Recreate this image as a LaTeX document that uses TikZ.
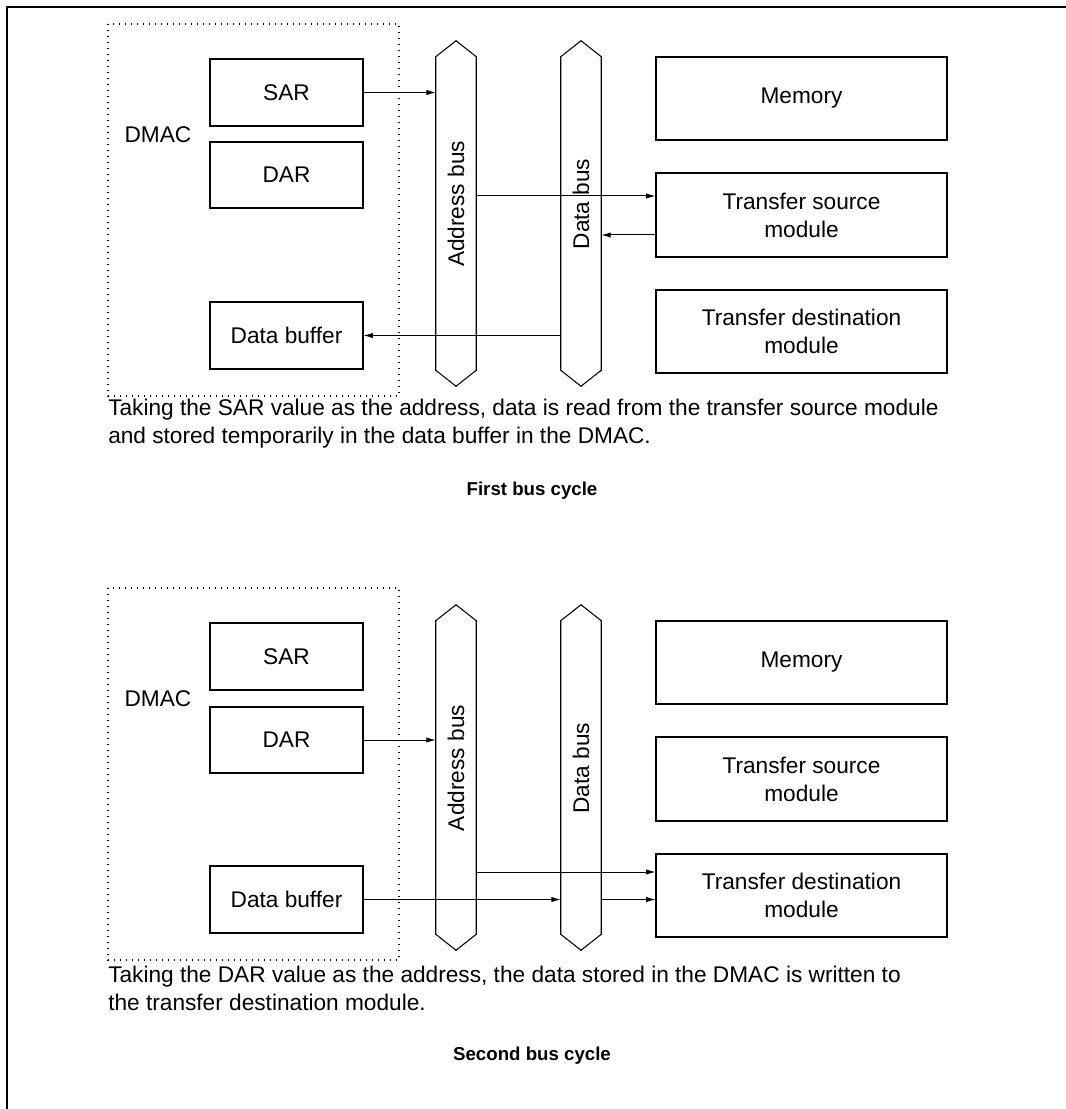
\documentclass[tikz,border=0pt]{standalone}
\usepackage{fontspec}
\setmainfont{Liberation Sans}
\usetikzlibrary{arrows.meta}
\begin{document}
\begin{tikzpicture}[x=0.75pt,y=-0.75pt,
  lbl/.style={font=\fontsize{17}{21}\selectfont},
  box/.style={draw, line width=0.8pt, align=center, inner sep=0pt, lbl},
  bw/.style 2 args={minimum width=#1*0.75pt, minimum height=#2*0.75pt},
  busn/.style={inner sep=0pt, minimum width=30pt, minimum height=234.75pt},
  bus/.style={draw, line width=0.8pt, line join=miter},
  arr/.style={line width=0.75pt, -{Latex[length=7pt,width=4pt]}},
  dmac/.style={draw, line width=0.9pt, dash pattern=on 0.9pt off 3.6pt},
  para/.style={anchor=west, align=left, inner sep=0pt, lbl},
  title/.style={font=\fontsize{14}{17}\selectfont\bfseries}]
\useasboundingbox (0,0) rectangle (1066,1109);
\draw[line width=1.4pt] (7,1109) -- (7,7) -- (1066,7);

% ---------- Panel 1 ----------
\draw[dmac] (108,24) rectangle (399,396);
\node[lbl] (dmac1) at (158,135) {DMAC};
\node[box, bw={153}{67}] (sar1) at (286.5,92.5) {SAR};
\node[box, bw={153}{66}] (dar1) at (286.5,175) {DAR};
\node[box, bw={153}{67}] (buf1) at (286.5,335.5) {Data buffer};
\node[box, bw={291}{83}] (mem1) at (801.5,98.5) {Memory};
\node[box, bw={291}{84}] (ts1) at (801.5,215) {Transfer source\\module};
\node[box, bw={291}{83}] (td1) at (801.5,331.5) {Transfer destination\\module};
\node[busn] (ab1) at (456,213.5) {};
\node[busn] (db1) at (581,213.5) {};
\foreach \b in {ab1,db1}
  \draw[bus] (\b.north west) -- ([yshift=12pt]\b.north) -- (\b.north east) -- (\b.south east) -- ([yshift=-12pt]\b.south) -- (\b.south west) -- cycle;
\node[lbl, rotate=90] (abt1) at (456,204) {Address bus};
\node[lbl, rotate=90] (dbt1) at (581,204) {Data bus};
\draw[arr] (sar1.east) -- (sar1.east -| ab1.west);
\draw[arr] (ab1.east |- 0,196) -- (ts1.west |- 0,196);
\draw[arr] (ts1.west |- 0,235) -- (db1.east |- 0,235);
\draw[arr] (db1.west |- buf1.east) -- (buf1.east);
\node[para] (p1) at (108,424) {Taking the SAR value as the address, data is read from the transfer source module\\and stored temporarily in the data buffer in the DMAC.};
\node[title] (t1) at (532,491) {First bus cycle};

% ---------- Panel 2 ----------
\draw[dmac] (108,588) rectangle (399,960);
\node[lbl] (dmac2) at (158,699) {DMAC};
\node[box, bw={153}{67}] (sar2) at (286.5,656.5) {SAR};
\node[box, bw={153}{66}] (dar2) at (286.5,740) {DAR};
\node[box, bw={153}{67}] (buf2) at (286.5,899.5) {Data buffer};
\node[box, bw={291}{83}] (mem2) at (801.5,662.5) {Memory};
\node[box, bw={291}{84}] (ts2) at (801.5,779) {Transfer source\\module};
\node[box, bw={291}{83}] (td2) at (801.5,895.5) {Transfer destination\\module};
\node[busn] (ab2) at (456,777.5) {};
\node[busn] (db2) at (581,777.5) {};
\foreach \b in {ab2,db2}
  \draw[bus] (\b.north west) -- ([yshift=12pt]\b.north) -- (\b.north east) -- (\b.south east) -- ([yshift=-12pt]\b.south) -- (\b.south west) -- cycle;
\node[lbl, rotate=90] (abt2) at (456,768) {Address bus};
\node[lbl, rotate=90] (dbt2) at (581,768) {Data bus};
\draw[arr] (dar2.east) -- (dar2.east -| ab2.west);
\draw[arr] (ab2.east |- 0,872) -- (td2.west |- 0,872);
\draw[arr] (buf2.east) -- (buf2.east -| db2.west);
\draw[arr] (db2.east |- buf2.east) -- (td2.west |- buf2.east);
\node[para] (p2) at (108,988) {Taking the DAR value as the address, the data stored in the DMAC is written to\\the transfer destination module.};
\node[title] (t2) at (532,1056) {Second bus cycle};
\end{tikzpicture}
\end{document}
